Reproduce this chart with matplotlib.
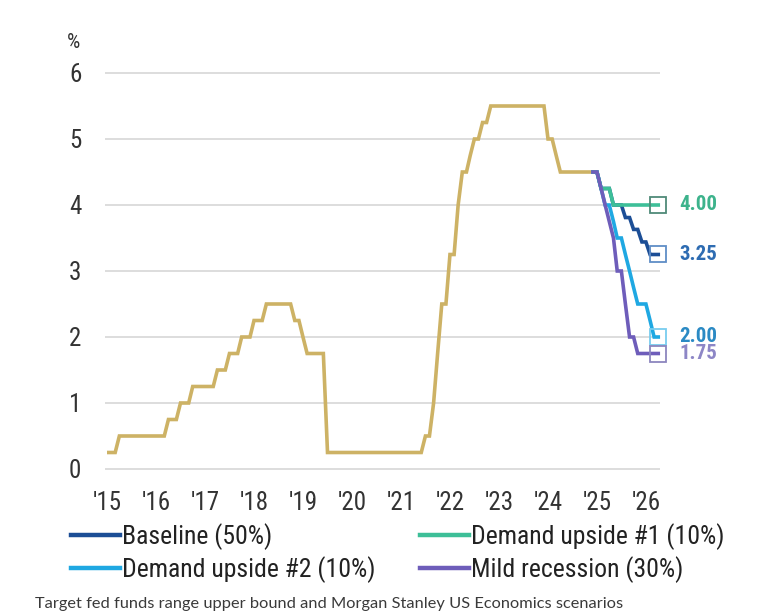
import matplotlib
matplotlib.use("Agg")
import matplotlib.pyplot as plt
from matplotlib import font_manager
import pandas as pd

# ---------------- data ----------------
# Target fed funds upper bound (%), monthly, start-of-month, Oct 2015 - Sep 2025
hist_start = "2015-10-01"
fed_upper = [
    0.25, 0.25, 0.25,                                                  # 2015 Oct-Dec
    0.50, 0.50, 0.50, 0.50, 0.50, 0.50, 0.50, 0.50, 0.50, 0.50, 0.50, 0.50,  # 2016
    0.75, 0.75, 0.75, 1.00, 1.00, 1.00, 1.25, 1.25, 1.25, 1.25, 1.25, 1.25,  # 2017
    1.50, 1.50, 1.50, 1.75, 1.75, 1.75, 2.00, 2.00, 2.00, 2.25, 2.25, 2.25,  # 2018
    2.50, 2.50, 2.50, 2.50, 2.50, 2.50, 2.50, 2.25, 2.25, 2.00, 1.75, 1.75,  # 2019
    1.75, 1.75, 1.75, 0.25, 0.25, 0.25, 0.25, 0.25, 0.25, 0.25, 0.25, 0.25,  # 2020
    0.25, 0.25, 0.25, 0.25, 0.25, 0.25, 0.25, 0.25, 0.25, 0.25, 0.25, 0.25,  # 2021
    0.25, 0.25, 0.25, 0.50, 0.50, 1.00, 1.75, 2.50, 2.50, 3.25, 3.25, 4.00,  # 2022
    4.50, 4.50, 4.75, 5.00, 5.00, 5.25, 5.25, 5.50, 5.50, 5.50, 5.50, 5.50,  # 2023
    5.50, 5.50, 5.50, 5.50, 5.50, 5.50, 5.50, 5.50, 5.50, 5.00, 5.00, 4.75,  # 2024
    4.50, 4.50, 4.50, 4.50, 4.50, 4.50, 4.50, 4.50, 4.50,                    # 2025 Jan-Sep
]

# Scenarios, monthly, Sep 2025 - Jan 2027
scen_start = "2025-09-01"
baseline = [4.50, 4.50, 4.25, 4.25, 4.25, 4.00, 4.00, 4.00, 3.81, 3.81,
            3.63, 3.63, 3.44, 3.44, 3.25, 3.25, 3.25]
demand_up1 = [4.50, 4.50, 4.25, 4.25, 4.25, 4.00, 4.00, 4.00, 4.00, 4.00,
              4.00, 4.00, 4.00, 4.00, 4.00, 4.00, 4.00]
demand_up2 = [4.50, 4.50, 4.25, 4.00, 4.00, 3.75, 3.50, 3.50, 3.25, 3.00,
              2.75, 2.50, 2.50, 2.50, 2.25, 2.00, 2.00]
mild_recession = [4.50, 4.50, 4.25, 4.00, 3.75, 3.50, 3.00, 3.00, 2.50, 2.00,
                  2.00, 1.75, 1.75, 1.75, 1.75, 1.75, 1.75]

scenario_labels = ["Baseline (50%)", "Demand upside #1 (10%)",
                   "Demand upside #2 (10%)", "Mild recession (30%)"]
end_labels = ["3.25", "4.00", "2.00", "1.75"]
year_ticks = ["'15", "'16", "'17", "'18", "'19", "'20", "'21", "'22",
              "'23", "'24", "'25", "'26"]
y_ticks = [0, 1, 2, 3, 4, 5, 6]
caption = "Target fed funds range upper bound and Morgan Stanley US Economics scenarios"

# ---------------- style ----------------
names = {f.name for f in font_manager.fontManager.ttflist}
narrow = "Roboto Condensed" if "Roboto Condensed" in names else "Roboto"
cap_font = "Lato" if "Lato" in names else "DejaVu Sans"

gold = "#CDB265"
c_base = "#1C4E96"
c_up1 = "#3DBF98"
c_up2 = "#1FA8E2"
c_rec = "#6E5DBA"
edge_cols = ["#5F8DC6", "#4F8A78", "#78CDEF", "#8C86BE"]
lab_cols = ["#2E6CB2", "#3DB38C", "#2B8AC4", "#8D86C6"]
text_col = "#333333"

W, H = 778, 616
fig = plt.figure(figsize=(W / 100, H / 100), dpi=100)
ax = fig.add_axes([105 / W, (H - 475.6) / H, 555 / W, (475.6 - 66.4) / H])

hist_x = pd.date_range(hist_start, periods=len(fed_upper), freq="MS")
scen_x = pd.date_range(scen_start, periods=len(baseline), freq="MS")

ax.plot(hist_x, fed_upper, color=gold, lw=2.6, solid_joinstyle="miter",
        solid_capstyle="butt", zorder=3)

series = [baseline, demand_up1, demand_up2, mild_recession]
colors = [c_base, c_up1, c_up2, c_rec]
zorders = [4, 6, 5, 7]
handles = []
for vals, col, ec, z in zip(series, colors, edge_cols, zorders):
    ln, = ax.plot(scen_x, vals, color=col, lw=2.6, solid_joinstyle="miter",
                  zorder=z, clip_on=False)
    ax.plot(scen_x[-1:], vals[-1:], ls="none", marker="s", ms=11.5,
            mfc="none", mec=ec, mew=1.3, zorder=z + 5, clip_on=False)
    handles.append(ln)

for vals, lab, lc in zip(series, end_labels, lab_cols):
    ax.annotate(lab, xy=(scen_x[-1], vals[-1]), xytext=(15, 0),
                textcoords="offset points", ha="left", va="center",
                fontsize=15, fontweight="bold", color=lc, family=narrow,
                annotation_clip=False)

ax.set_xlim(pd.Timestamp("2015-09-16"), pd.Timestamp("2027-01-14"))
ax.set_ylim(-0.1, 6.1)
ax.set_yticks(y_ticks)
ax.set_yticklabels([str(v) for v in y_ticks])
tick_pos = [pd.Timestamp(f"{2015 + i}-10-01") for i in range(len(year_ticks))]
ax.set_xticks(tick_pos)
ax.set_xticklabels(year_ticks)
ax.yaxis.grid(True, color="#DADADA", lw=1.3, zorder=0)
ax.xaxis.grid(False)
for s in ax.spines.values():
    s.set_visible(False)
ax.tick_params(axis="both", length=0, labelsize=18, labelcolor=text_col)
ax.tick_params(axis="y", pad=17)
ax.tick_params(axis="x", pad=11)
for lab in ax.get_xticklabels() + ax.get_yticklabels():
    lab.set_family(narrow)

fig.text(74 / W, 1 - 43 / H, "%", ha="center", va="center", fontsize=15,
         color=text_col, family=narrow)

order = [0, 2, 1, 3]
leg = fig.legend([handles[i] for i in order], [scenario_labels[i] for i in order],
                 ncol=2, loc="upper left", bbox_to_anchor=(58 / W, 1 - 510 / H),
                 frameon=False, borderpad=0, handlelength=1.9, handletextpad=0.08,
                 labelspacing=0.25, columnspacing=1.75,
                 prop={"family": narrow, "size": 18.5})
for t in leg.get_texts():
    t.set_color("#222222")
for l in leg.get_lines():
    l.set_linewidth(3.2)

fig.text(35 / W, 1 - 604 / H, caption, ha="left", va="center", fontsize=11.8,
         color="#3a3a3a", family=cap_font)

fig.savefig("out.png", dpi=100)
